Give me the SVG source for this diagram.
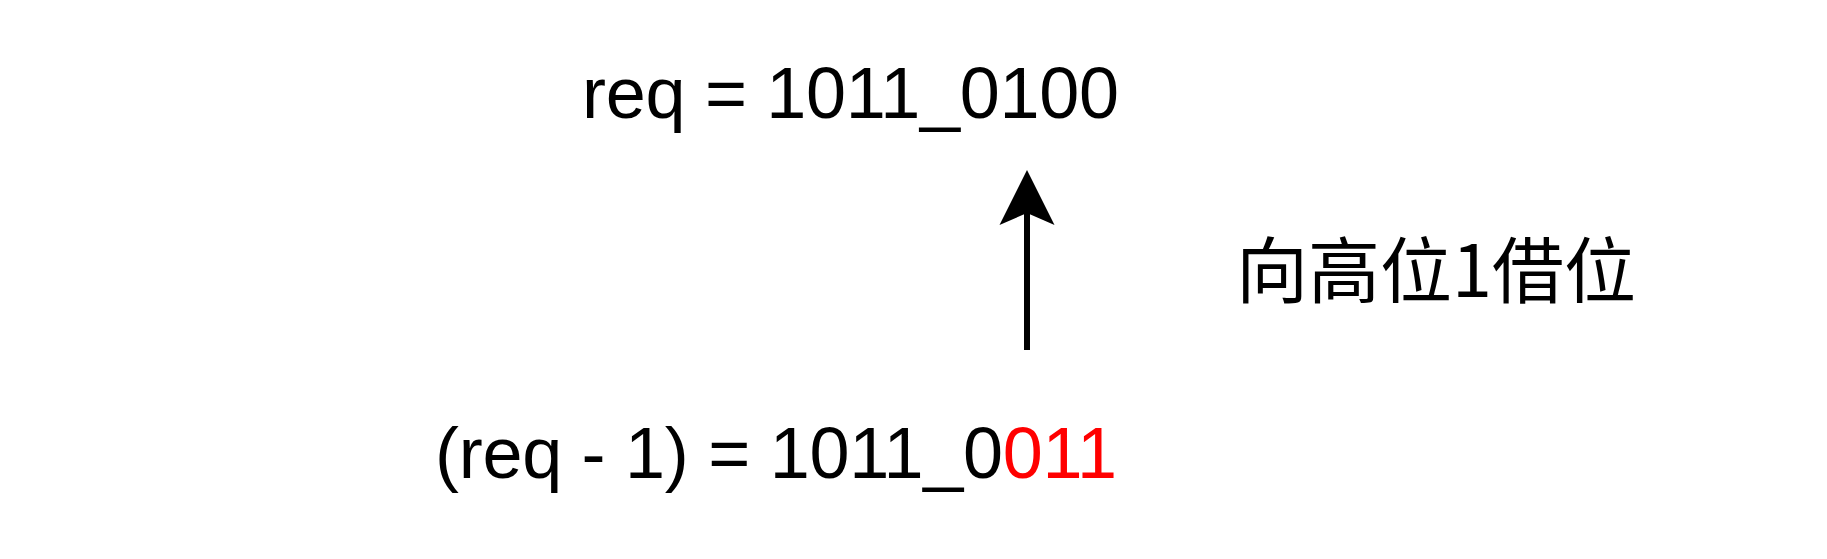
<svg xmlns="http://www.w3.org/2000/svg" width="1827" height="559" viewBox="0 0 1827 559">
  <style>
    .lbl { font-family: "Liberation Sans", Arial, "Noto Sans CJK SC", sans-serif; font-size: 72px; fill: #000000; }
    .cjk { font-family: "Noto Sans CJK SC", "Liberation Sans", sans-serif; font-size: 72px; fill: #000000; }
    .red { fill: #FF0000; }
    .edge { stroke: #000000; stroke-width: 6; fill: none; }
  </style>
  <defs>
    <marker id="arrow" markerUnits="userSpaceOnUse" viewBox="-13 -29 58 58" refX="0" refY="0" markerWidth="58" markerHeight="58" orient="auto">
      <path d="M43,0 L-12,-27.5 L0,0 L-12,27.5 Z" fill="#000000"/>
    </marker>
  </defs>
  <rect x="0" y="0" width="1827" height="559" fill="#FFFFFF"/>
  <g id="node-req">
    <text class="lbl" x="582" y="118" textLength="537" lengthAdjust="spacing">req = 1011_0100</text>
  </g>
  <g id="node-req-minus-1">
    <text class="lbl" x="435" y="478" textLength="682" lengthAdjust="spacing">(req - 1) = 1011_0<tspan class="red">011</tspan></text>
  </g>
  <g id="label-borrow">
    <text class="cjk" x="1236" y="297">向高位1借位</text>
  </g>
  <g id="connectors">
    <path class="edge" d="M1027,350 L1027,213" marker-end="url(#arrow)"/>
  </g>
</svg>
